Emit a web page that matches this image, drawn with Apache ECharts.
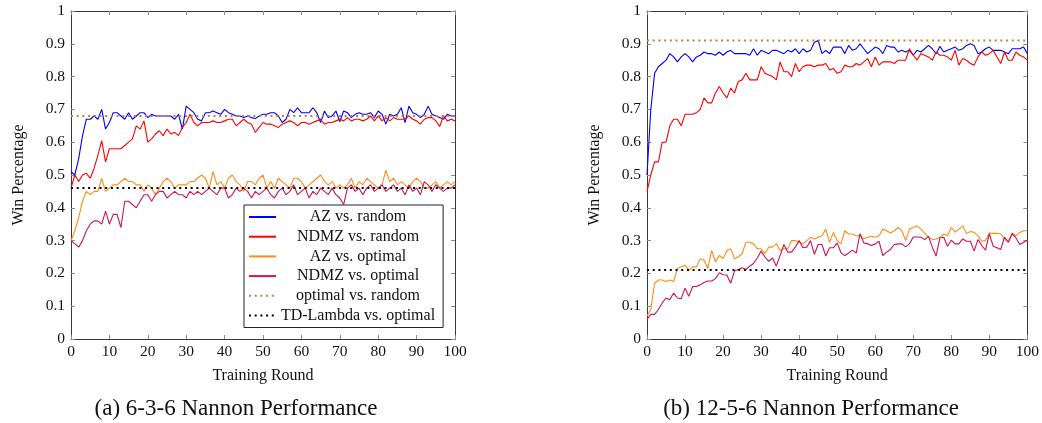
<!DOCTYPE html>
<html><head><meta charset="utf-8">
<script src="https://cdn.jsdelivr.net/npm/echarts@6/dist/echarts.min.js"></script>
<style>html,body{margin:0;padding:0;background:#fff}#c{width:1042px;height:423px}</style>
</head><body><div id="c"></div><script>
const FONT = 'Liberation Serif';
const seriesNames = ['AZ vs. random', 'NDMZ vs. random', 'AZ vs. optimal', 'NDMZ vs. optimal', 'optimal vs. random', 'TD-Lambda vs. optimal'];
const captions = ['(a) 6-3-6 Nannon Performance', '(b) 12-5-6 Nannon Performance'];

// ---------- (a) 6-3-6 Nannon, rounds 0..100 ----------
const a_AZ_random = [
 0.51,0.50,0.55,0.62,0.67,0.67,0.68,0.67,0.70,0.64,
 0.66,0.69,0.69,0.68,0.67,0.69,0.67,0.68,0.69,0.69,
 0.675,0.685,0.68,0.68,0.68,0.68,0.68,0.67,0.685,0.64,
 0.71,0.70,0.69,0.67,0.665,0.69,0.69,0.695,0.69,0.685,
 0.70,0.69,0.685,0.68,0.68,0.675,0.68,0.675,0.672,0.68,
 0.685,0.685,0.69,0.69,0.68,0.66,0.67,0.70,0.69,0.705,
 0.69,0.69,0.69,0.705,0.69,0.66,0.695,0.675,0.68,0.695,
 0.663,0.695,0.69,0.675,0.685,0.69,0.685,0.685,0.69,0.675,
 0.695,0.685,0.655,0.685,0.68,0.685,0.705,0.66,0.71,0.69,
 0.685,0.675,0.685,0.71,0.685,0.68,0.675,0.67,0.685,0.68,
 0.68];
const a_NDMZ_random = [
 0.46,0.50,0.48,0.50,0.505,0.49,0.52,0.56,0.605,0.54,
 0.58,0.58,0.58,0.58,0.59,0.60,0.61,0.65,0.64,0.665,
 0.60,0.61,0.625,0.635,0.62,0.64,0.625,0.63,0.62,0.645,
 0.66,0.685,0.66,0.65,0.66,0.66,0.66,0.665,0.66,0.66,
 0.665,0.67,0.67,0.65,0.66,0.67,0.66,0.655,0.63,0.645,
 0.66,0.655,0.655,0.65,0.645,0.655,0.66,0.665,0.66,0.65,
 0.66,0.66,0.655,0.66,0.665,0.67,0.655,0.66,0.66,0.665,
 0.67,0.665,0.675,0.665,0.67,0.67,0.665,0.67,0.68,0.665,
 0.68,0.665,0.675,0.665,0.675,0.67,0.67,0.67,0.68,0.67,
 0.665,0.655,0.67,0.675,0.675,0.665,0.648,0.68,0.665,0.67,
 0.665];
const a_AZ_optimal = [
 0.30,0.33,0.37,0.42,0.45,0.44,0.45,0.45,0.49,0.45,
 0.46,0.47,0.47,0.48,0.49,0.48,0.48,0.47,0.47,0.45,
 0.47,0.46,0.44,0.46,0.48,0.49,0.48,0.46,0.47,0.47,
 0.47,0.48,0.48,0.49,0.50,0.49,0.46,0.51,0.47,0.48,
 0.46,0.49,0.50,0.48,0.47,0.45,0.48,0.48,0.47,0.49,
 0.50,0.46,0.48,0.46,0.49,0.48,0.47,0.46,0.49,0.49,
 0.48,0.46,0.47,0.48,0.49,0.50,0.48,0.47,0.48,0.46,
 0.47,0.46,0.47,0.49,0.46,0.48,0.47,0.49,0.48,0.47,
 0.46,0.47,0.515,0.48,0.49,0.47,0.48,0.47,0.46,0.48,
 0.49,0.48,0.46,0.46,0.47,0.48,0.46,0.47,0.48,0.47,
 0.48];
const a_NDMZ_optimal = [
 0.30,0.29,0.28,0.30,0.33,0.35,0.36,0.36,0.35,0.39,
 0.35,0.38,0.38,0.34,0.42,0.42,0.41,0.40,0.42,0.44,
 0.44,0.42,0.44,0.45,0.45,0.43,0.44,0.45,0.44,0.44,
 0.43,0.45,0.44,0.45,0.44,0.45,0.46,0.45,0.44,0.46,
 0.46,0.43,0.44,0.46,0.45,0.46,0.45,0.43,0.45,0.44,
 0.45,0.46,0.44,0.43,0.45,0.46,0.44,0.45,0.47,0.44,
 0.45,0.46,0.43,0.45,0.44,0.46,0.45,0.44,0.46,0.44,
 0.43,0.41,0.46,0.47,0.45,0.46,0.44,0.46,0.47,0.45,
 0.46,0.47,0.45,0.46,0.47,0.45,0.46,0.44,0.47,0.45,
 0.46,0.44,0.48,0.47,0.45,0.47,0.46,0.45,0.46,0.46,
 0.47];
const a_optimal_random = 0.68;
const a_TD_optimal = 0.46;

// ---------- (b) 12-5-6 Nannon, rounds 0..100 ----------
const b_AZ_random = [
 0.50,0.70,0.81,0.83,0.84,0.85,0.87,0.86,0.845,0.86,
 0.87,0.86,0.845,0.86,0.865,0.875,0.87,0.87,0.865,0.875,
 0.865,0.875,0.88,0.87,0.87,0.87,0.87,0.865,0.885,0.865,
 0.88,0.875,0.87,0.88,0.88,0.875,0.87,0.88,0.875,0.885,
 0.87,0.885,0.875,0.88,0.905,0.91,0.87,0.88,0.87,0.89,
 0.89,0.89,0.87,0.895,0.88,0.885,0.90,0.885,0.87,0.88,
 0.89,0.885,0.87,0.895,0.89,0.89,0.875,0.88,0.875,0.88,
 0.865,0.88,0.875,0.885,0.895,0.885,0.87,0.892,0.875,0.88,
 0.885,0.89,0.88,0.885,0.895,0.90,0.895,0.87,0.875,0.885,
 0.89,0.88,0.88,0.88,0.875,0.87,0.885,0.885,0.885,0.89,
 0.87];
const b_NDMZ_random = [
 0.45,0.50,0.54,0.54,0.60,0.60,0.65,0.67,0.67,0.65,
 0.685,0.685,0.685,0.69,0.70,0.735,0.72,0.72,0.75,0.77,
 0.75,0.735,0.765,0.75,0.785,0.79,0.81,0.79,0.79,0.79,
 0.83,0.81,0.805,0.80,0.79,0.845,0.815,0.815,0.80,0.84,
 0.815,0.83,0.835,0.835,0.83,0.835,0.835,0.84,0.82,0.825,
 0.81,0.815,0.835,0.83,0.83,0.84,0.835,0.845,0.855,0.83,
 0.86,0.835,0.845,0.845,0.845,0.84,0.85,0.85,0.85,0.885,
 0.865,0.85,0.87,0.865,0.86,0.85,0.875,0.865,0.865,0.86,
 0.85,0.88,0.835,0.855,0.85,0.84,0.835,0.86,0.875,0.865,
 0.87,0.88,0.86,0.84,0.875,0.85,0.85,0.875,0.865,0.86,
 0.85];
const b_AZ_optimal = [
 0.07,0.09,0.17,0.18,0.18,0.175,0.18,0.175,0.215,0.22,
 0.225,0.21,0.22,0.22,0.245,0.24,0.215,0.27,0.235,0.255,
 0.245,0.27,0.275,0.245,0.25,0.26,0.295,0.295,0.29,0.275,
 0.275,0.26,0.28,0.28,0.29,0.27,0.275,0.275,0.30,0.30,
 0.295,0.29,0.30,0.31,0.305,0.31,0.315,0.335,0.295,0.325,
 0.30,0.29,0.33,0.32,0.32,0.315,0.315,0.305,0.31,0.313,
 0.31,0.315,0.335,0.33,0.323,0.33,0.34,0.33,0.30,0.335,
 0.34,0.345,0.335,0.323,0.31,0.303,0.305,0.31,0.32,0.315,
 0.34,0.326,0.335,0.345,0.322,0.328,0.325,0.315,0.298,0.30,
 0.323,0.322,0.322,0.32,0.305,0.295,0.323,0.315,0.325,0.33,
 0.33];
const b_NDMZ_optimal = [
 0.06,0.075,0.075,0.09,0.11,0.125,0.12,0.14,0.125,0.123,
 0.155,0.13,0.16,0.16,0.165,0.172,0.177,0.177,0.184,0.202,
 0.196,0.195,0.17,0.207,0.212,0.217,0.212,0.222,0.23,0.247,
 0.268,0.25,0.237,0.247,0.222,0.255,0.288,0.265,0.265,0.28,
 0.30,0.278,0.28,0.30,0.258,0.288,0.288,0.253,0.278,0.278,
 0.293,0.263,0.254,0.262,0.271,0.262,0.321,0.293,0.29,0.285,
 0.29,0.298,0.254,0.265,0.273,0.288,0.29,0.29,0.281,0.29,
 0.311,0.311,0.31,0.303,0.313,0.28,0.253,0.308,0.31,0.283,
 0.301,0.29,0.29,0.305,0.298,0.298,0.268,0.303,0.285,0.271,
 0.321,0.283,0.278,0.273,0.311,0.295,0.321,0.308,0.288,0.295,
 0.301];
const b_optimal_random = 0.91;
const b_TD_optimal = 0.21;

const colors = ['#0000ff', '#ff0000', '#ff8c1a', '#cc1456', '#bf8040', '#000000'];

function pairs(arr) { return arr.map((v, i) => [i, v]); }
function flat(v) { return [[0, v], [100, v]]; }

const panels = [
  [a_AZ_random, a_NDMZ_random, a_AZ_optimal, a_NDMZ_optimal, a_optimal_random, a_TD_optimal],
  [b_AZ_random, b_NDMZ_random, b_AZ_optimal, b_NDMZ_optimal, b_optimal_random, b_TD_optimal]
];
const grids = [
  { left: 71, top: 11, width: 384, height: 328 },
  { left: 647, top: 11, width: 383, height: 328 }
];

const frame = { show: true, onZero: false, lineStyle: { color: '#3a3a3a', width: 1 } };
const tick = { show: true, inside: true, length: 4, lineStyle: { color: '#8a8a8a', width: 1 } };
const lbl = { fontFamily: FONT, fontSize: 15.5, color: '#111' };
const nameStyle = { fontFamily: FONT, fontSize: 16, color: '#111' };

const xAxis = [], yAxis = [], series = [];
grids.forEach((g, gi) => {
  xAxis.push({ gridIndex: gi, type: 'value', min: 0, max: 100, interval: 10, position: 'bottom',
    axisLine: frame, axisTick: tick, splitLine: { show: false },
    axisLabel: Object.assign({ margin: 5 }, lbl),
    name: 'Training Round', nameLocation: 'middle', nameGap: 29, nameTextStyle: nameStyle });
  xAxis.push({ gridIndex: gi, type: 'value', min: 0, max: 100, interval: 10, position: 'top',
    axisLine: frame, axisTick: tick, splitLine: { show: false }, axisLabel: { show: false } });
  yAxis.push({ gridIndex: gi, type: 'value', min: 0, max: 1, interval: 0.1, position: 'left',
    axisLine: frame, axisTick: tick, splitLine: { show: false },
    axisLabel: Object.assign({ margin: 6, formatter: v => String(Math.round(v * 10) / 10) }, lbl),
    name: 'Win Percentage', nameLocation: 'middle', nameGap: 44, nameRotate: 90, nameTextStyle: nameStyle });
  yAxis.push({ gridIndex: gi, type: 'value', min: 0, max: 1, interval: 0.1, position: 'right',
    axisLine: frame, axisTick: tick, splitLine: { show: false }, axisLabel: { show: false } });

  panels[gi].forEach((d, si) => {
    const dotted = si >= 4;
    series.push({
      name: seriesNames[si], type: 'line', xAxisIndex: gi * 2, yAxisIndex: gi * 2,
      data: dotted ? flat(d) : pairs(d),
      symbol: 'none', showSymbol: false, animation: false, z: dotted ? 3 : 2,
      lineStyle: { color: colors[si], width: dotted ? 2 : 1.1, type: dotted ? [2, 3.7] : 'solid' },
      itemStyle: { color: colors[si] }
    });
  });
});

const chart = echarts.init(document.getElementById('c'), null, { renderer: 'canvas' });
chart.setOption({
  animation: false,
  backgroundColor: '#fff',
  grid: grids,
  xAxis, yAxis, series,
  legend: {
    data: seriesNames, orient: 'vertical', left: 244, top: 205,
    padding: [4, 8, 4, 4], itemGap: 3.7, itemWidth: 27, itemHeight: 14,
    borderColor: '#222', borderWidth: 1, backgroundColor: '#fff',
    itemStyle: { opacity: 0, borderWidth: 0 },
    formatter: n => '{t|' + n + '}',
    textStyle: { fontFamily: FONT, fontSize: 16, color: '#111',
      rich: { t: { width: 154, lineHeight: 16, align: 'center', fontFamily: FONT, fontSize: 16, color: '#111' } } }
  },
  graphic: [
    { type: 'text', x: 236, y: 397,
      style: { text: captions[0], textAlign: 'center', font: '23px "Liberation Serif"', fill: '#111' } },
    { type: 'text', x: 811, y: 397,
      style: { text: captions[1], textAlign: 'center', font: '23px "Liberation Serif"', fill: '#111' } }
  ]
});
</script></body></html>
